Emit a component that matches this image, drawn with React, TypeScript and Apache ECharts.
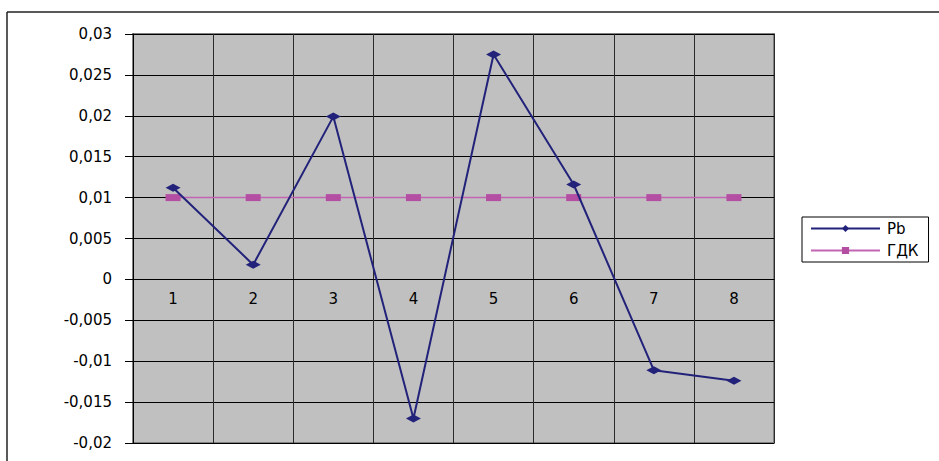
import React, { useEffect, useRef } from "react";
import * as echarts from "echarts";

const categories = ["1", "2", "3", "4", "5", "6", "7", "8"];
const pbValues = [0.0112, 0.0018, 0.0199, -0.0170, 0.0275, 0.0116, -0.0111, -0.0124];
const gdkValues = [0.01, 0.01, 0.01, 0.01, 0.01, 0.01, 0.01, 0.01];
const seriesNames = ["Pb", "ГДК"];
const Y_MIN = -0.02;
const Y_MAX = 0.03;
const Y_STEP = 0.005;

const FONT = "DejaVu Sans";
const GRID_TOP = 34;
const GRID_H = 409;

function fmt(v: number): string {
  const s = parseFloat(v.toFixed(4)).toString();
  return s.replace(".", ",");
}

export default function App() {
  const ref = useRef<HTMLDivElement>(null);
  useEffect(() => {
    if (!ref.current) return;
    const chart = echarts.init(ref.current, null, { renderer: "svg" });
    // place the category axis on the zero line (the value axis crosses at 0)
    const zeroOffset = -GRID_H * (0 - Y_MIN) / (Y_MAX - Y_MIN);
    chart.setOption({
      animation: false,
      backgroundColor: "#ffffff",
      textStyle: { fontFamily: FONT },
      graphic: [
        { type: "line", shape: { x1: 7, y1: 12, x2: 7, y2: 470 }, style: { stroke: "#222", lineWidth: 1.5 } },
        { type: "line", shape: { x1: 7, y1: 12, x2: 950, y2: 12 }, style: { stroke: "#222", lineWidth: 1.5 } },
      ],
      grid: {
        left: 133,
        top: GRID_TOP,
        width: 641,
        height: GRID_H,
        show: true,
        backgroundColor: "#c0c0c0",
        borderColor: "#808080",
        borderWidth: 2,
        containLabel: false,
        outerBoundsMode: "none",
      },
      legend: {
        orient: "vertical",
        left: 802,
        top: 217,
        padding: [4, 10, 4, 8],
        itemGap: 7,
        itemWidth: 69,
        itemHeight: 9,
        backgroundColor: "#ffffff",
        borderColor: "#000",
        borderWidth: 1,
        borderRadius: 0,
        textStyle: { fontFamily: FONT, fontSize: 15, lineHeight: 15, color: "#000", padding: [0, 0, 0, 2] },
        data: seriesNames,
      },
      xAxis: {
        type: "category",
        data: categories,
        boundaryGap: true,
        position: "bottom",
        offset: zeroOffset,
        axisLine: { onZero: false, lineStyle: { color: "#000", width: 1 } },
        axisTick: { show: false },
        axisLabel: { margin: 12, color: "#000", fontSize: 15, fontFamily: FONT },
        splitLine: { show: true, interval: 0, lineStyle: { color: "#2a2a2a", width: 1 } },
      },
      yAxis: {
        type: "value",
        min: Y_MIN,
        max: Y_MAX,
        interval: Y_STEP,
        axisLine: { show: true, onZero: false, lineStyle: { color: "#000", width: 1 } },
        axisTick: { show: true, length: 8, lineStyle: { color: "#000" } },
        axisLabel: { margin: 21, color: "#000", fontSize: 15, fontFamily: FONT, formatter: (v: number) => fmt(v) },
        splitLine: { show: true, lineStyle: { color: "#000", width: 1 } },
      },
      series: [
        {
          name: seriesNames[0],
          type: "line",
          data: pbValues,
          z: 4,
          symbol: "diamond",
          symbolSize: [15, 8],
          lineStyle: { color: "#22227a", width: 2 },
          itemStyle: { color: "#22227a" },
        },
        {
          name: seriesNames[1],
          type: "line",
          data: gdkValues,
          z: 3,
          symbol: "rect",
          symbolSize: [15, 7],
          lineStyle: { color: "#c266b4", width: 1.5 },
          itemStyle: { color: "#b44ea2" },
        },
      ],
    });
    return () => chart.dispose();
  }, []);
  return (
    <div
      ref={ref}
      style={{ position: "fixed", left: 0, top: 0, width: 939, height: 461 }}
    />
  );
}
